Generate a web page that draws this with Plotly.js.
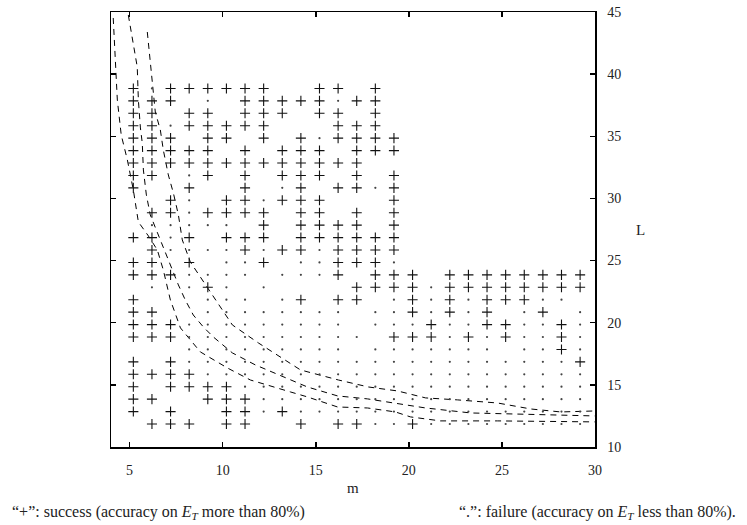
<!DOCTYPE html>
<html><head><meta charset="utf-8">
<script src="https://cdn.plot.ly/plotly-3.0.1.min.js"></script>
<style>html,body{margin:0;padding:0;background:#fff;}#chart{width:747px;height:525px;}</style>
</head><body><div id="chart"></div>
<script>
// grid of tested (m, L) pairs
const mValues = [5.2,6.2,7.2,8.2,9.2,10.2,11.2,12.2,13.2,14.2,15.2,16.2,17.2,18.2,19.2,20.2,21.2,22.2,23.2,24.2,25.2,26.2,27.2,28.2,29.2];
const LValues = [38.85,37.85,36.85,35.85,34.85,33.85,32.85,31.85,30.85,29.85,28.85,27.85,26.85,25.85,24.85,23.85,22.85,21.85,20.85,19.85,18.85,17.85,16.85,15.85,14.85,13.85,12.85,11.85];
// '+' = success, '.' = failure, ' ' = not tested (one string per L row, one char per m column)
const outcomeRows = [
"+.++++++  ++ +           ",
"+++ . +++++.++           ",
"++ ++ +++ ++ +           ",
"++.+++++   +++           ",
"+++ ++ + +.++++          ",
"+++++ + +++ +++          ",
"+++++++++++++            ",
"++ .+ + +++ + +          ",
"+  +  + .+ ++.+          ",
"  +. ++.+++   +          ",
" ++.++++ ++ + +          ",
" ..... + ++++ +          ",
"++.+ +++ ++++++          ",
" +....+.++.++++          ",
"++ + ..+ ..+++.          ",
"+++.... ...+ +++ ++++++++",
" . .+. .    ++++.++++++++",
"+   ... .+ ++ .+.+.+++.. ",
"++  ........ ..+.+.+ .+ .",
"+++......... ...+..++..+.",
"+++.......... +++.+.+..+.",
"   ......... ....... ..+.",
"+ +.....................+",
"++++.....................",
"+ ++++...................",
"++  +++..................",
"+ +  ++.+................",
" +++ ++  + ++..+........."
];
// dashed boundary curves
const curve1M = [4.12,4.23,4.34,4.55,4.88,5.20,5.47,6.01,6.49,6.81,7.19,7.73,8.80,10.25,11.49,13.64,14.55,16.17,17.78,19.28,20.09,21.70,24.77,29.98];
const curve1L = [44.52,41.14,37.92,35.10,33.09,30.68,28.11,26.98,25.85,24.24,21.83,19.58,17.65,16.36,15.39,14.43,14.03,13.22,13.14,12.82,12.42,12.10,12.10,12.02];
const curve2M = [4.93,5.15,5.41,5.47,5.58,5.68,5.74,5.90,6.11,6.65,7.19,7.62,7.99,8.42,8.96,9.50,10.52,11.76,14.55,16.17,17.78,19.28,20.90,23.32,29.98];
const curve2L = [44.76,42.99,40.58,37.92,35.67,34.46,32.29,30.28,28.67,26.66,24.65,23.04,21.83,20.62,19.66,18.85,17.57,16.60,14.83,14.11,13.87,13.54,13.14,12.74,12.50];
const curve3M = [5.95,6.11,6.27,6.38,6.65,6.81,7.08,7.35,7.62,7.83,8.26,8.80,9.61,10.52,11.92,14.18,16.22,17.83,19.39,20.90,22.62,24.77,26.55,28.16,29.98];
const curve3L = [43.39,41.14,38.56,36.95,35.51,33.90,31.89,30.44,28.67,26.66,24.89,23.68,21.83,19.82,18.37,16.20,15.39,14.83,14.51,13.95,13.79,13.54,13.06,12.82,12.90];
const xTicks = [5,10,15,20,25,30];
const yTicks = [10,15,20,25,30,35,40,45];

const sx=[], sy=[], fx=[], fy=[];
outcomeRows.forEach((row,i)=>{
  for(let j=0;j<row.length;j++){
    const c=row[j];
    if(c==='+'){sx.push(mValues[j]);sy.push(LValues[i]);}
    else if(c==='.'){fx.push(mValues[j]);fy.push(LValues[i]);}
  }
});
const serif = 'Liberation Serif, Times New Roman, serif';
const dash = {color:'#000', width:1, dash:'6px,5px'};
const traces = [
  {x:curve1M,y:curve1L,mode:'lines',line:dash,hoverinfo:'skip'},
  {x:curve2M,y:curve2L,mode:'lines',line:dash,hoverinfo:'skip'},
  {x:curve3M,y:curve3L,mode:'lines',line:dash,hoverinfo:'skip'},
  {x:fx,y:fy,mode:'markers',marker:{symbol:'circle',size:2.2,color:'#444'}},
  {x:sx,y:sy,mode:'markers',marker:{symbol:'cross-thin',size:7.2,line:{width:1.1,color:'#111'}}}
];
const axisBase = {showgrid:false,zeroline:false,showline:true,linecolor:'#000',linewidth:1.5,mirror:'ticks',
  ticks:'inside',ticklen:5,tickwidth:1.5,tickcolor:'#000',tickfont:{family:serif,size:14,color:'#222'}};
const layout = {
  width:747,height:525,margin:{l:111,r:152,t:12,b:78},
  paper_bgcolor:'#fff',plot_bgcolor:'#fff',showlegend:false,
  xaxis:Object.assign({},axisBase,{range:[4,30],tickvals:xTicks,ticklabelstandoff:10}),
  yaxis:Object.assign({},axisBase,{range:[10,45],tickvals:yTicks,side:'right',ticklabelstandoff:8}),
  annotations:[
    {text:'m',xref:'paper',yref:'paper',x:0.5,y:0,yanchor:'middle',yshift:-41,showarrow:false,font:{family:serif,size:15,color:'#222'}},
    {text:'L',xref:'paper',yref:'y',x:1,y:27.5,xanchor:'center',xshift:45,showarrow:false,font:{family:serif,size:15,color:'#222'}},
    {text:'“+”: success (accuracy on <i>E</i><sub><i>T</i></sub> more than 80%)',xref:'paper',yref:'paper',x:-0.2087,y:0,xanchor:'left',yanchor:'middle',yshift:-65,showarrow:false,font:{family:serif,size:16,color:'#222'}},
    {text:'“.”: failure (accuracy on <i>E</i><sub><i>T</i></sub> less than 80%).',xref:'paper',yref:'paper',x:0.7149,y:0,xanchor:'left',yanchor:'middle',yshift:-65,showarrow:false,font:{family:serif,size:16,color:'#222'}}
  ]
};
Plotly.newPlot('chart',traces,layout,{staticPlot:true,displayModeBar:false});
</script></body></html>
